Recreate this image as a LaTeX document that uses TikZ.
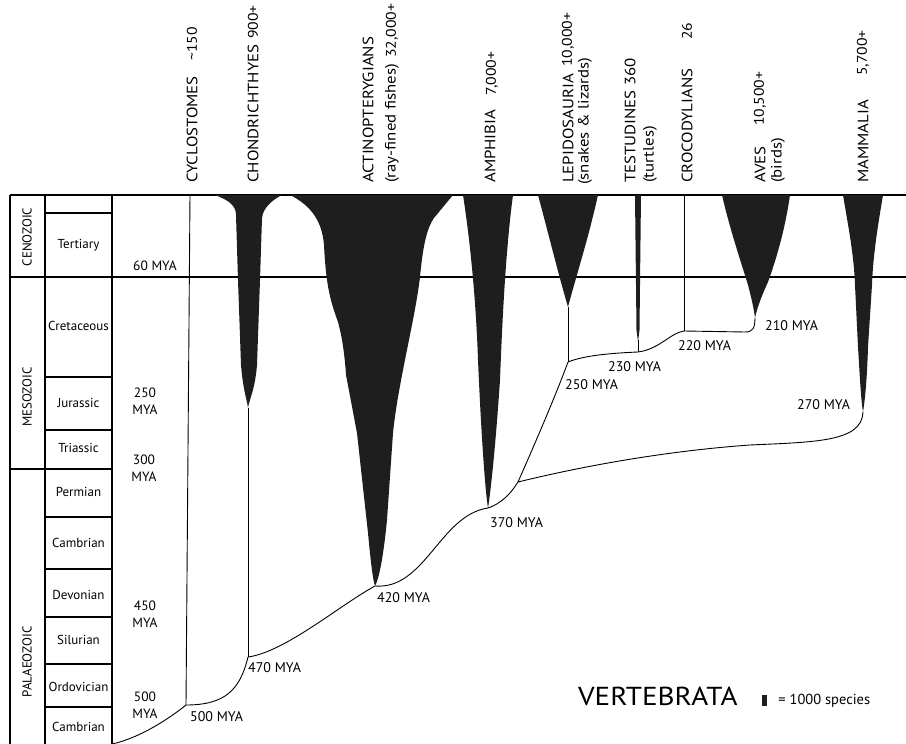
\documentclass[tikz,border=0pt]{standalone}
\usepackage{fontspec}
\setmainfont{PT Sans}
\newfontfamily\widesans[FakeStretch=1.12]{PT Sans}
\usetikzlibrary{positioning}

\definecolor{spindle}{RGB}{30,30,30}

\tikzset{
	grid line/.style={line width=1.1pt},
	branch/.style={line width=0.9pt},
	lineage/.style={fill=spindle, draw=none},
	taxon/.style={rotate=90, anchor=west, inner sep=0pt, font=\widesans\fontsize{15}{17}\selectfont},
	count/.style={taxon, font=\widesans\fontsize{14}{16}\selectfont},
	era/.style={rotate=90, inner sep=0pt, font=\fontsize{13}{15}\selectfont},
	period/.style={inner sep=0pt, font=\fontsize{13}{15}\selectfont},
	age/.style={inner sep=0pt, align=center, font=\fontsize{13.5}{17}\selectfont},
	mya/.style={anchor=west, inner sep=0pt, font=\fontsize{14}{16}\selectfont},
}

\begin{document}
\begin{tikzpicture}[x=1pt,y=-1pt]
	\useasboundingbox (0,0) rectangle (906,744);

	% time table
	\draw[grid line] (10,195) -- (906,195);
	\draw[grid line] (10,277) -- (906,277);
	\draw[grid line] (10,195) -- (10,744) (45,195) -- (45,744) (112,195) -- (112,744);
	\draw[grid line] (10,469) -- (112,469);
	\foreach \y in {213,377,430,517,569,617,664,707}
		\draw[grid line] (45,\y) -- (112,\y);

	\node[era] (ceno) at (27,237) {CENOZOIC};
	\node[era] (meso) at (27,397) {MESOZOIC};
	\node[era] (palaeo) at (27,662) {PALAEOZOIC};

	\foreach \name/\y [count=\i] in {Tertiary/245,Cretaceous/326,Jurassic/403,Triassic/448,Permian/492,Cambrian/543,Devonian/595,Silurian/640,Ordovician/687,Cambrian/727}
		\node[period] (per\i) at (78.5,\y) {\name};

	\node[age] (m60) at (155,266) {60 MYA};
	\node[age] (m250) at (145,401) {250\\MYA};
	\node[age] (m300) at (144,468) {300\\MYA};
	\node[age] (m450) at (145,614) {450\\MYA};
	\node[age] (m500) at (145,705) {500\\MYA};

	% branching points
	\coordinate (root) at (112,744);
	\coordinate (j500) at (186,705);
	\coordinate (j470) at (248,657);
	\coordinate (j420) at (375,586);
	\coordinate (j370) at (488,508);
	\coordinate (jmam) at (518,482);
	\coordinate (j250) at (568,362);
	\coordinate (j230) at (638,352);
	\coordinate (j220) at (684,331);
	\coordinate (j210) at (755,318);
	\coordinate (j270) at (863,412);
	\coordinate (cyc) at (190,195);
	\coordinate (chon) at (248,408);
	\coordinate (lepi) at (568,307);
	\coordinate (test) at (638,340);
	\coordinate (croc) at (684,195);

	% lineages
	\fill[lineage] (215,195) .. controls (228,200) and (236,205) .. (236,215) -- (238,280) -- (241,365)
		.. controls (243,390) and (247,400) .. (chon) .. controls (249,400) and (255,390) .. (257,365)
		-- (260,280) -- (262,218) .. controls (263,208) and (272,200) .. (282,195) -- cycle;
	\fill[lineage] (290,195) .. controls (310,205) and (322,220) .. (324,245) .. controls (326,285) and (330,300) .. (338,322)
		.. controls (343,340) and (345,360) .. (346,375) -- (357,433) -- (368,533) .. controls (371,565) and (373,580) .. (j420)
		.. controls (381,575) and (385,540) .. (387,520) -- (393,433) .. controls (398,383) and (415,320) .. (420,277)
		.. controls (423,245) and (427,228) .. (434,218) -- (453,195) -- cycle;
	\fill[lineage] (463,195) .. controls (470,240) and (476,300) .. (478,360) .. controls (481,430) and (485,490) .. (j370)
		.. controls (491,490) and (496,440) .. (500,380) .. controls (503,300) and (507,240) .. (513,195) -- cycle;
	\fill[lineage] (538,195) .. controls (550,240) and (560,280) .. (lepi) .. controls (575,280) and (588,240) .. (598,195) -- cycle;
	\fill[lineage] (635,195) -- (641,195) -- (639.5,330) -- (638,342) -- (636.5,330) -- cycle;
	\fill[lineage] (722,195) .. controls (730,230) and (742,265) .. (748,285) .. controls (752,300) and (754,310) .. (j210)
		.. controls (757,308) and (762,295) .. (768,282) .. controls (776,260) and (785,230) .. (790,195) -- cycle;
	\fill[lineage] (843,195) .. controls (848,225) and (854,255) .. (855,285) -- (858,347) .. controls (860,380) and (861,400) .. (j270)
		.. controls (865,400) and (867,380) .. (868,347) -- (872,285) .. controls (873,255) and (878,225) .. (883,195) -- cycle;

	% branches
	\draw[branch] (root) .. controls (140,738) and (170,718) .. (j500);
	\draw[branch] (cyc) -- (j500);
	\draw[branch] (j500) .. controls (225,705) and (240,690) .. (j470);
	\draw[branch] (chon) -- (j470);
	\draw[branch] (j470) .. controls (285,652) and (340,605) .. (j420);
	\draw[branch] (j420) .. controls (425,590) and (440,515) .. (j370);
	\draw[branch] (j370) .. controls (500,504) and (510,495) .. (jmam);
	\draw[branch] (jmam) .. controls (530,455) and (556,395) .. (j250);
	\draw[branch] (lepi) -- (j250);
	\draw[branch] (j250) .. controls (585,355) and (615,353) .. (j230);
	\draw[branch] (test) -- (j230);
	\draw[branch] (j230) .. controls (660,349) and (670,333) .. (j220);
	\draw[branch] (croc) -- (j220);
	\draw[branch] (j220) -- (745,332) .. controls (753,332) and (755,328) .. (j210);
	\draw[branch] (jmam) .. controls (600,462) and (680,450) .. (750,445) .. controls (815,442) and (862,442) .. (j270);

	% divergence times
	\node[mya] (t500) at (190,717) {500 MYA};
	\node[mya] (t470) at (248,668) {470 MYA};
	\node[mya] (t420) at (377,598) {420 MYA};
	\node[mya] (t370) at (490,523) {370 MYA};
	\node[mya] (t250) at (565,385) {250 MYA};
	\node[mya] (t230) at (608,367) {230 MYA};
	\node[mya] (t220) at (678,346) {220 MYA};
	\node[mya] (t210) at (765,326) {210 MYA};
	\node[mya] (t270) at (797,405) {270 MYA};

	% taxa
	\node[taxon] (cyclo) at (192,183) {CYCLOSTOMES};
	\node[count] (cyclon) at (192,61) {\textasciitilde150};
	\node[taxon] (chondro) at (253,183) {CHONDRICHTHYES};
	\node[count] (chondron) at (253,39) {900+};
	\node[taxon] (actino) at (368,183) {ACTINOPTERYGIANS};
	\node[taxon] (actinoc) at (392,183) {(ray-fined fishes)};
	\node[count] (actinon) at (392,58) {32,000+};
	\node[taxon] (amphi) at (490,183) {AMPHIBIA};
	\node[count] (amphin) at (492,96) {7,000+};
	\node[taxon] (lepido) at (568,183) {LEPIDOSAURIA};
	\node[count] (lepidon) at (568,67) {10,000+};
	\node[taxon] (lepidoc) at (585,185) {(snakes \& lizards)};
	\node[taxon] (testu) at (630,183) {TESTUDINES 360};
	\node[taxon] (testuc) at (650,183) {(turtles)};
	\node[taxon] (croco) at (687,183) {CROCODYLIANS};
	\node[count] (croconum) at (687,40) {26};
	\node[taxon] (aves) at (760,183) {AVES};
	\node[count] (avesn) at (760,126) {10,500+};
	\node[taxon] (avesc) at (778,183) {(birds)};
	\node[taxon] (mamma) at (863,183) {MAMMALIA};
	\node[count] (mamman) at (863,76) {5,700+};

	% legend
	\node[anchor=west, inner sep=0pt, font=\widesans\fontsize{26}{30}\selectfont] (title) at (578,696) {VERTEBRATA};
	\node[fill=spindle, minimum width=5pt, minimum height=11pt, inner sep=0pt] (key) at (764.5,700.5) {};
	\node[right=11pt of key, inner sep=0pt, font=\fontsize{14.5}{16}\selectfont] (keytext) {= 1000 species};
\end{tikzpicture}
\end{document}
